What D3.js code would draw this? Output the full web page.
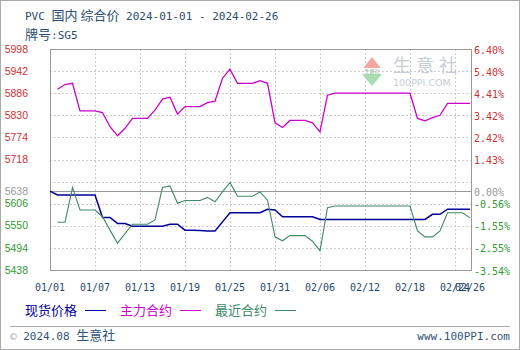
<!DOCTYPE html>
<html>
<head>
<meta charset="utf-8">
<script src="https://cdn.jsdelivr.net/npm/d3@7"></script>
<style>
  body { margin: 0; background: #fff; }
  svg { display: block; }
</style>
</head>
<body>
<div id="chart"></div>
<script>
// daily values, 2024-01-01 .. 2024-02-26
var spot = [5638, 5628, 5628, 5628, 5628, 5628, 5628, 5571, 5571, 5556,
  5556, 5549, 5549, 5549, 5549, 5549, 5554, 5554, 5539, 5539,
  5538, 5537, 5537, 5560, 5583, 5583, 5583, 5583, 5583, 5592,
  5590, 5573, 5573, 5573, 5573, 5573, 5566, 5566, 5566, 5566,
  5566, 5566, 5566, 5566, 5566, 5566, 5566, 5566, 5566, 5566,
  5566, 5579, 5579, 5592, 5592, 5592, 5592]
var main = [null, 5896, 5908, 5911, 5841, 5841, 5841, 5837, 5801, 5778,
  5797, 5822, 5822, 5822, 5843, 5871, 5876, 5833, 5852, 5852,
  5852, 5862, 5866, 5924, 5947, 5911, 5911, 5911, 5918, 5911,
  5811, 5799, 5817, 5817, 5817, 5811, 5788, 5881, 5886, 5886,
  5886, 5886, 5886, 5886, 5886, 5886, 5886, 5886, 5886, 5822,
  5816, 5824, 5830, 5860, 5860, 5860, 5860]
var nearest = [null, 5559, 5559, 5647, 5590, 5590, 5590, 5573, 5539, 5506,
  5530, 5554, 5554, 5554, 5565, 5647, 5651, 5607, 5614, 5614,
  5614, 5622, 5611, 5636, 5660, 5625, 5625, 5625, 5636, 5615,
  5522, 5512, 5525, 5525, 5525, 5511, 5487, 5596, 5600, 5600,
  5600, 5600, 5600, 5600, 5600, 5600, 5600, 5600, 5600, 5537,
  5522, 5522, 5537, 5583, 5583, 5583, 5570]

var xTicks = ['01/01', '01/07', '01/13', '01/19', '01/25', '01/31', '02/06', '02/12', '02/18', '02/24', '02/26']
var leftTicks = [5998, 5942, 5886, 5830, 5774, 5718, 5638, 5606, 5550, 5494, 5438]
var rightTicks = ['6.40%', '5.40%', '4.41%', '3.42%', '2.42%', '1.43%', '0.00%', '-0.56%', '-1.55%', '-2.55%', '-3.54%']
var gridValues = [5942, 5886, 5830, 5774, 5718, 5662, 5606, 5550, 5494]
var baseValue = 5638

var width = 520
var height = 350
// plot box
var pLeft = 50, pRight = 471, pTop = 49, pBottom = 270

var red = '#cc3333', green = '#339933', gray = '#999999'
var mono = '"DejaVu Sans Mono", "Liberation Mono", monospace'
var cjk = '"Noto Sans CJK SC", sans-serif'

var parse = d3.timeParse('%Y/%m/%d')
var start = parse('2024/01/01')
var dates = spot.map((v, i) => d3.timeDay.offset(start, i))

var x = d3.scaleTime()
  .domain([start, parse('2024/02/26')])
  .range([pLeft, pRight - 1])
var y = d3.scaleLinear()
  .domain([5438, 5998])
  .range([pBottom, pTop])

var svg = d3.select('#chart')
  .append('svg')
  .attr('width', width)
  .attr('height', height)

svg.append('rect')
  .attr('x', 0.5).attr('y', 0.5)
  .attr('width', width - 1).attr('height', height - 1)
  .attr('fill', '#fff').attr('stroke', '#aaaaaa')

// title
var title = svg.append('text')
  .attr('x', 25).attr('y', 20)
  .attr('fill', '#2b4d6e')
title.append('tspan').attr('font-family', mono).attr('font-size', 11).text('PVC ')
title.append('tspan').attr('font-family', cjk).attr('font-size', 13).text('国内 综合价')
title.append('tspan').attr('font-family', mono).attr('font-size', 11).text(' 2024-01-01 - 2024-02-26')

var sub = svg.append('text')
  .attr('x', 25).attr('y', 39)
  .attr('fill', '#2b4d6e')
sub.append('tspan').attr('font-family', cjk).attr('font-size', 13).text('牌号')
sub.append('tspan').attr('font-family', mono).attr('font-size', 11).text(':SG5')

// watermark
var wm = svg.append('g').attr('transform', 'translate(372,71)')
wm.append('path').attr('d', 'M-11,0 L0,-14 L11,0 Z').attr('fill', '#f2a8a0')
wm.append('path').attr('d', 'M-11,2 L0,15 L11,2 Z').attr('fill', '#a8dcb0')
wm.append('rect').attr('x', -11).attr('y', -3).attr('width', 22).attr('height', 6).attr('fill', '#fff')
wm.append('text').attr('x', 0).attr('y', 2).attr('text-anchor', 'middle')
  .attr('font-size', 5).attr('fill', '#88aa88').attr('font-family', cjk).text('生意社')
svg.append('text').attr('x', 393).attr('y', 72)
  .attr('font-family', cjk).attr('font-size', 18).attr('letter-spacing', 5)
  .attr('fill', '#c7cdd8').text('生意社')
svg.append('text').attr('x', 393).attr('y', 86)
  .attr('font-family', '"DejaVu Sans", sans-serif').attr('font-size', 9.5)
  .attr('fill', '#c7cdd8').text('100PPI.COM')

// grid
svg.append('g')
  .selectAll('line')
  .data(gridValues)
  .enter()
  .append('line')
  .attr('x1', pLeft).attr('x2', pRight)
  .attr('y1', d => Math.round(y(d)) + 0.5)
  .attr('y2', d => Math.round(y(d)) + 0.5)
  .attr('stroke', '#cccccc')
  .attr('stroke-dasharray', '2,2')

var tickDates = xTicks.map(t => parse('2024/' + t))
svg.append('g')
  .selectAll('line')
  .data(tickDates.slice(1, -1))
  .enter()
  .append('line')
  .attr('x1', d => Math.round(x(d)) + 0.5)
  .attr('x2', d => Math.round(x(d)) + 0.5)
  .attr('y1', pTop).attr('y2', pBottom)
  .attr('stroke', '#cccccc')
  .attr('stroke-dasharray', '2,2')

// base line
svg.append('line')
  .attr('x1', pLeft).attr('x2', pRight)
  .attr('y1', Math.round(y(baseValue)) + 0.5)
  .attr('y2', Math.round(y(baseValue)) + 0.5)
  .attr('stroke', '#999999')

// frame
svg.append('rect')
  .attr('x', pLeft + 0.5).attr('y', pTop + 0.5)
  .attr('width', pRight - pLeft).attr('height', pBottom - pTop)
  .attr('fill', 'none').attr('stroke', '#999999')

// axis labels
svg.append('g')
  .selectAll('text')
  .data(leftTicks)
  .enter()
  .append('text')
  .attr('x', 28)
  .attr('y', d => y(d))
  .attr('dy', '0.35em')
  .attr('text-anchor', 'end')
  .attr('font-family', '"Liberation Sans", Arial, sans-serif')
  .attr('font-size', 10.5)
  .attr('fill', d => d > baseValue ? red : d == baseValue ? gray : green)
  .text(d => d)

svg.append('g')
  .selectAll('text')
  .data(rightTicks)
  .enter()
  .append('text')
  .attr('x', 474)
  .attr('y', (d, i) => y(leftTicks[i]) + 1)
  .attr('dy', '0.35em')
  .attr('font-family', mono)
  .attr('font-size', 10)
  .attr('fill', (d, i) => leftTicks[i] > baseValue ? red : leftTicks[i] == baseValue ? gray : green)
  .text(d => d)

svg.append('g')
  .selectAll('text')
  .data(xTicks)
  .enter()
  .append('text')
  .attr('x', (d, i) => x(tickDates[i]))
  .attr('y', 291)
  .attr('text-anchor', 'middle')
  .attr('font-family', mono)
  .attr('font-size', 10)
  .attr('fill', '#1f4a6e')
  .text(d => d)

// series
var series = [
  {label: '现货价格', values: spot, color: '#000099', w: 1.5},
  {label: '主力合约', values: main, color: '#cc00cc', w: 1.3},
  {label: '最近合约', values: nearest, color: '#3d8a66', w: 1.1}
]

var line = d3.line()
  .defined(d => d[1] != null)
  .x(d => x(d[0]))
  .y(d => y(d[1]))

series.forEach(s => {
  svg.append('path')
    .datum(s.values.map((v, i) => [dates[i], v]))
    .attr('d', line)
    .attr('fill', 'none')
    .attr('stroke', s.color)
    .attr('stroke-width', s.w)
})

// legend
var legendX = [25, 120, 215]
series.forEach((s, i) => {
  svg.append('text')
    .attr('x', legendX[i]).attr('y', 315)
    .attr('font-family', cjk).attr('font-size', 13)
    .attr('fill', s.color)
    .text(s.label)
  svg.append('line')
    .attr('x1', legendX[i] + 60).attr('x2', legendX[i] + 81)
    .attr('y1', 310.5).attr('y2', 310.5)
    .attr('stroke', s.color)
})

// footer
svg.append('line')
  .attr('x1', 10).attr('x2', 510)
  .attr('y1', 326.5).attr('y2', 326.5)
  .attr('stroke', '#aaaaaa')
var foot = svg.append('text').attr('x', 10).attr('y', 340).attr('fill', '#335577')
foot.append('tspan').attr('font-family', mono).attr('font-size', 11).attr('fill', '#aab').text('© ')
foot.append('tspan').attr('font-family', mono).attr('font-size', 11).text('2024.08 ')
foot.append('tspan').attr('font-family', cjk).attr('font-size', 13).text('生意社')
svg.append('text')
  .attr('x', 510).attr('y', 340)
  .attr('text-anchor', 'end')
  .attr('font-family', mono).attr('font-size', 11)
  .attr('fill', '#335577')
  .text('www.100PPI.com')
</script>
</body>
</html>
